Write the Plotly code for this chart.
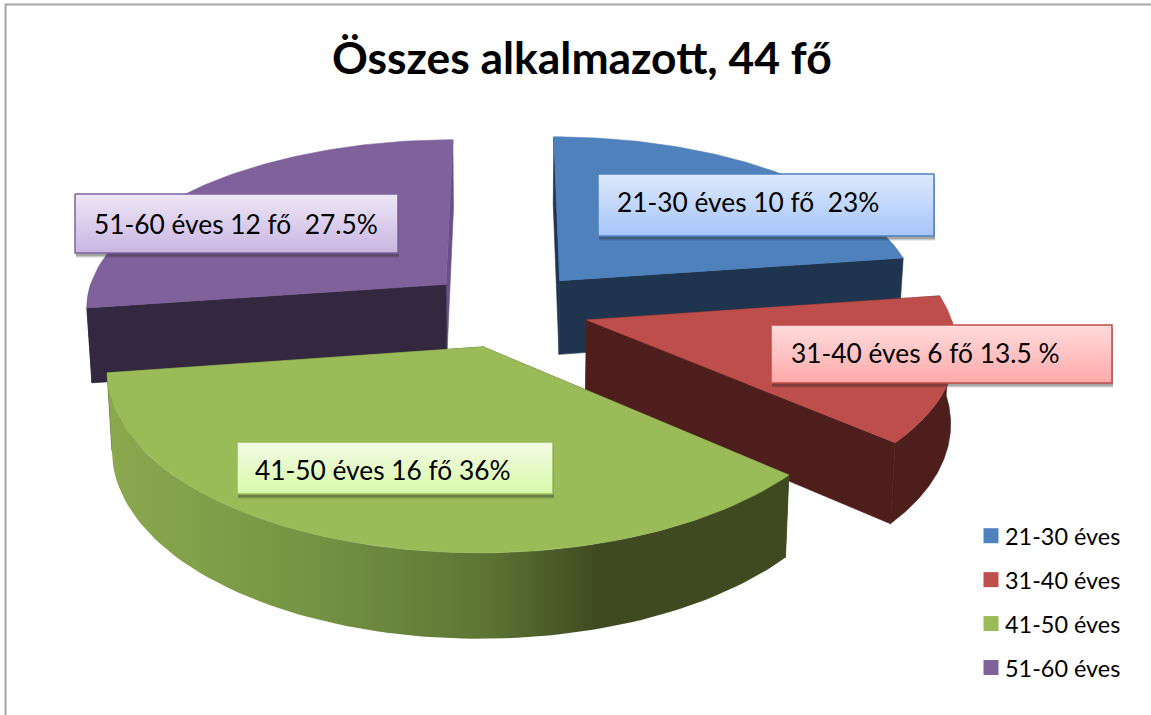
import numpy as np
import plotly.graph_objects as go

# ---- data ----
categories = ["21-30 éves", "31-40 éves", "41-50 éves", "51-60 éves"]
employees = [10, 6, 16, 12]
callouts = ["21-30 éves 10 fő  23%", "31-40 éves 6 fő 13.5 %", "41-50 éves 16 fő 36%", "51-60 éves 12 fő  27.5%"]
title_text = "Összes alkalmazott, 44 fő"

# ---- styles ----
top_colors = ["#4F81BD", "#BE4E4B", "#9BBB59", "#7F619C"]
wall_colors = ["#1F344F", "#4E1E1D", "#3F4A20", "#332840"]
end_wall_colors = ["#1F344F", "#4E1E1D", "#3F4A20", "#6A5088"]
green_side_scale = [[0, "#8CA94F"], [0.3, "#769344"], [0.55, "#5E7635"], [0.72, "#3F4A20"], [1, "#3F4A20"]]
box_styles = [
    ("#4F81BD", "#DDE9FD", "#A6C5FA"),
    ("#BE4E4B", "#FFDCDC", "#FFA9A9"),
    ("#9BBB59", "#F2FBE6", "#D9F9A8"),
    ("#7F619C", "#EEE7F6", "#C8B5E2"),
]
box_rects = [(598, 174, 934, 236), (771, 325, 1112, 383), (237, 442, 553, 494), (75, 194, 398, 253)]
text_pos = [(615, 202), (789, 353), (253, 470), (92, 224)]
FONT = "Lato, Carlito, Calibri, sans-serif"

# ---- pie geometry ----
CX, CY = 507, 309
R, RY = 362, 169
PERSP = 0.128
PULL = 0.227
DROP = 75
BOTTOM_SCALE = 0.988


def project(X, Z, lower=False):
    s = 1 / (1 + PERSP * Z)
    b = BOTTOM_SCALE if lower else 1.0
    return CX + R * X * s * b, CY - RY * Z * s * b + (DROP * s if lower else 0)


def closed(xs, ys):
    return dict(x=list(xs) + [xs[0]], y=list(ys) + [ys[0]])


fig = go.Figure()

for name, color in zip(categories, top_colors):
    fig.add_trace(go.Scatter(x=[None], y=[None], mode="markers", name=name, legendgroup=name,
                             marker=dict(symbol="square", size=15, color=color, angle=90, standoff=6)))


def poly(xs, ys, color=None, gradient=None):
    if gradient:
        kw = dict(fillgradient=gradient, line=dict(width=0))
    else:
        kw = dict(fillcolor=color, line=dict(width=0.6, color=color))
    fig.add_trace(go.Scatter(**closed(xs, ys), mode="lines", fill="toself",
                             showlegend=False, hoverinfo="skip", **kw))


total = sum(employees)
edges = np.cumsum([0] + employees) / total * 2 * np.pi
for i in [3, 0, 1, 2]:
    a0, a1 = edges[i], edges[i + 1]
    mid = (a0 + a1) / 2
    ox, oz = PULL * np.sin(mid), PULL * np.cos(mid)
    theta = np.linspace(a0, a1, 90)
    X, Z = ox + np.sin(theta), oz + np.cos(theta)
    # walls
    for a, wc in ((a1, end_wall_colors[i]), (a0, wall_colors[i])):
        xt, yt = project(np.array([ox, ox + np.sin(a)]), np.array([oz, oz + np.cos(a)]))
        xb, yb = project(np.array([ox + np.sin(a), ox]), np.array([oz + np.cos(a), oz]), True)
        poly(list(xt) + list(xb), list(yt) + list(yb), wc)
    # outer side (the part facing the viewer)
    lo, hi = max(a0, np.pi / 2), min(a1, 3 * np.pi / 2)
    if hi > lo:
        t = np.linspace(lo, hi, 90)
        xt, yt = project(ox + np.sin(t), oz + np.cos(t))
        xb, yb = project(ox + np.sin(t), oz + np.cos(t), True)
        xs, ys = list(xt) + list(xb[::-1]), list(yt) + list(yb[::-1])
        if i == 2:
            poly(xs, ys, gradient=dict(type="horizontal", colorscale=green_side_scale))
        else:
            poly(xs, ys, wall_colors[i])
    # top face
    xt, yt = project(X, Z)
    ax, ay = project(np.array([ox]), np.array([oz]))
    poly(list(ax) + list(xt), list(ay) + list(yt), top_colors[i])

# ---- callout boxes ----
annotations = []
for (x0, y0, x1, y1), (edge, c0, c1), label, (tx, ty) in zip(box_rects, box_styles, callouts, text_pos):
    for off, alpha in ((5, 0.10), (4, 0.16), (3, 0.22)):
        fig.add_trace(go.Scatter(x=[x0 + 1, x1 + 1, x1 + 1, x0 + 1, x0 + 1],
                                 y=[y0 + off, y0 + off, y1 + off, y1 + off, y0 + off],
                                 mode="lines", fill="toself", fillcolor=f"rgba(40,40,40,{alpha})",
                                 line=dict(width=0), showlegend=False, hoverinfo="skip"))
    fig.add_trace(go.Scatter(x=[x0, x1, x1, x0, x0], y=[y0, y0, y1, y1, y0], mode="lines", fill="toself",
                             line=dict(color=edge, width=1.5), showlegend=False, hoverinfo="skip",
                             fillgradient=dict(type="vertical", colorscale=[[0, c1], [1, c0]])))
    annotations.append(dict(x=tx, y=ty, xref="x", yref="y", text=label, showarrow=False, xanchor="left",
                            yanchor="middle", font=dict(family=FONT, size=26.3, color="#000000")))

annotations.append(dict(x=582, y=56, xref="x", yref="y", text=f"<b>{title_text}</b>", showarrow=False,
                        xanchor="center", yanchor="middle", font=dict(family=FONT, size=44.4, color="#000000")))

fig.update_layout(
    width=1151, height=715, margin=dict(l=0, r=0, t=0, b=0),
    paper_bgcolor="#FFFFFF", plot_bgcolor="#FFFFFF",
    xaxis=dict(range=[0, 1151], visible=False, fixedrange=True),
    yaxis=dict(range=[715, 0], visible=False, fixedrange=True),
    annotations=annotations,
    shapes=[dict(type="rect", xref="x", yref="y", x0=5.5, y0=4.5, x1=1300, y1=900,
                 line=dict(color="#A6A6A6", width=2), fillcolor="rgba(0,0,0,0)", layer="below")],
    legend=dict(x=965 / 1151, y=1 - 514 / 715, xanchor="left", yanchor="top",
                font=dict(family=FONT, size=23.4, color="#000000"), tracegroupgap=10.5,
                bgcolor="rgba(0,0,0,0)"),
    showlegend=True,
)

fig.write_html("out.html", post_script="document.body.style.margin='0';",
               config=dict(displayModeBar=False))
